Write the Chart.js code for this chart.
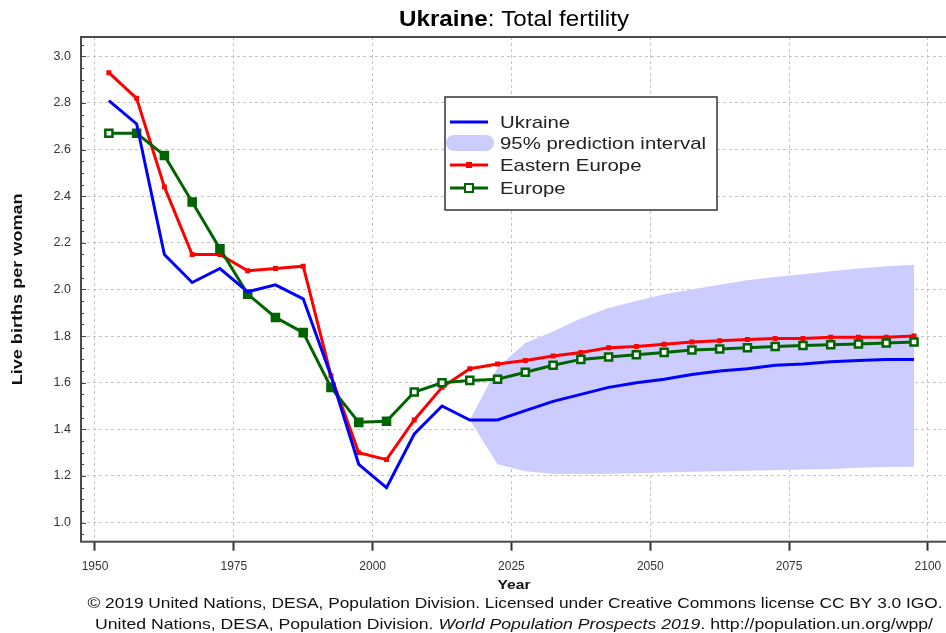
<!DOCTYPE html>
<html>
<head>
<meta charset="utf-8">
<title>Ukraine: Total fertility</title>
<script src="https://cdn.jsdelivr.net/npm/chart.js@4/dist/chart.umd.min.js"></script>
<style>
  html, body { margin: 0; padding: 0; background: #fff; overflow: hidden; }
  #wrap { width: 960px; height: 633px; }
</style>
</head>
<body>
<div id="wrap"><canvas id="fertChart" width="960" height="633"></canvas></div>
<script>
// Total fertility, live births per woman (mid points of the 5-year periods)
const years = [1952.5, 1957.5, 1962.5, 1967.5, 1972.5, 1977.5, 1982.5, 1987.5, 1992.5, 1997.5,
  2002.5, 2007.5, 2012.5, 2017.5, 2022.5, 2027.5, 2032.5, 2037.5, 2042.5, 2047.5,
  2052.5, 2057.5, 2062.5, 2067.5, 2072.5, 2077.5, 2082.5, 2087.5, 2092.5, 2097.5];

const ukraine = [2.81, 2.71, 2.15, 2.03, 2.09, 1.99, 2.02, 1.96, 1.63, 1.25,
  1.15, 1.38, 1.50, 1.44, 1.44, 1.48, 1.52, 1.55, 1.58, 1.60,
  1.615, 1.635, 1.65, 1.66, 1.675, 1.68, 1.69, 1.695, 1.70, 1.70];

const easternEurope = [2.93, 2.82, 2.44, 2.15, 2.15, 2.08, 2.09, 2.10, 1.63, 1.30,
  1.27, 1.44, 1.58, 1.66, 1.68, 1.695, 1.715, 1.73, 1.75, 1.755,
  1.765, 1.775, 1.78, 1.785, 1.79, 1.79, 1.795, 1.795, 1.795, 1.80];

const europe = [2.67, 2.67, 2.575, 2.375, 2.175, 1.98, 1.88, 1.815, 1.58, 1.43,
  1.435, 1.56, 1.60, 1.61, 1.615, 1.645, 1.675, 1.70, 1.71, 1.72,
  1.73, 1.74, 1.745, 1.75, 1.755, 1.76, 1.763, 1.766, 1.77, 1.775];

// 95% prediction interval for Ukraine
const piYears = [2017.5, 2022.5, 2027.5, 2032.5, 2037.5, 2042.5, 2047.5, 2052.5, 2057.5,
  2062.5, 2067.5, 2072.5, 2077.5, 2082.5, 2087.5, 2092.5, 2097.5];
const piLower = [1.44, 1.25, 1.22, 1.21, 1.21, 1.21, 1.212, 1.215, 1.218,
  1.22, 1.222, 1.225, 1.228, 1.23, 1.235, 1.238, 1.24];
const piUpper = [1.44, 1.665, 1.77, 1.82, 1.875, 1.92, 1.95, 1.98, 2.00,
  2.02, 2.04, 2.053, 2.065, 2.078, 2.09, 2.10, 2.106];

const xTicks = [1950, 1975, 2000, 2025, 2050, 2075, 2100];
const yTicks = [1.0, 1.2, 1.4, 1.6, 1.8, 2.0, 2.2, 2.4, 2.6, 2.8, 3.0];

const legendItems = ['Ukraine', '95% prediction interval', 'Eastern Europe', 'Europe'];

const BLUE = '#0000ff';
const RED = '#ff0000';
const GREEN = '#006400';
const SHADE = '#ccccff';
const FONT = '"Liberation Sans", Arial, sans-serif';

function pts(xs, ys) {
  return xs.map((x, i) => ({ x: x, y: ys[i] }));
}

// draws a run of [text, font] pieces squeezed/stretched to a given width
function fitRun(ctx, parts, cx, y, width) {
  let total = 0;
  parts.forEach(p => { ctx.font = p[1]; total += ctx.measureText(p[0]).width; });
  const k = width / total;
  ctx.save();
  ctx.translate(cx - width / 2, y);
  ctx.scale(k, 1);
  ctx.textAlign = 'left';
  let x = 0;
  parts.forEach(p => {
    ctx.font = p[1];
    ctx.fillText(p[0], x, 0);
    x += ctx.measureText(p[0]).width;
  });
  ctx.restore();
}

// titles, frame, inner ticks, legend and footer
const decor = {
  id: 'decor',
  afterDraw(chart) {
    const ctx = chart.ctx;
    const a = chart.chartArea;
    const yScale = chart.scales.y;
    const cx = 514;
    ctx.save();

    // small ticks on the inside of the left border
    ctx.strokeStyle = '#444';
    ctx.lineWidth = 1;
    for (let k = 19; k <= 61; k++) {
      const py = Math.round(yScale.getPixelForValue(k * 0.05)) + 0.5;
      if (py < a.top || py > a.bottom) continue;
      const len = (k % 4 === 0) ? 5 : 3;
      ctx.beginPath();
      ctx.moveTo(a.left, py);
      ctx.lineTo(a.left + len, py);
      ctx.stroke();
    }

    // plot frame
    ctx.strokeStyle = '#4a4a4a';
    ctx.lineWidth = 2;
    ctx.strokeRect(a.left, a.top, a.width, a.height);

    // title
    ctx.fillStyle = '#000';
    ctx.textBaseline = 'middle';
    fitRun(ctx, [['Ukraine', 'bold 22px ' + FONT], [': Total fertility', '22px ' + FONT]], cx, 20, 230);

    // axis titles
    ctx.fillStyle = '#111';
    fitRun(ctx, [['Year', 'bold 13px ' + FONT]], cx, 585, 33);
    ctx.save();
    ctx.translate(18, (a.top + a.bottom) / 2);
    ctx.rotate(-Math.PI / 2);
    fitRun(ctx, [['Live births per woman', 'bold 15px ' + FONT]], 0, 0, 192);
    ctx.restore();

    // footer
    ctx.fillStyle = '#111';
    fitRun(ctx, [['\u00a9 2019 United Nations, DESA, Population Division. Licensed under Creative Commons license CC BY 3.0 IGO.', '14.5px ' + FONT]], cx + 1, 604, 855);
    fitRun(ctx, [
      ['United Nations, DESA, Population Division. ', '14.5px ' + FONT],
      ['World Population Prospects 2019', 'italic 14.5px ' + FONT],
      ['. http://population.un.org/wpp/', '14.5px ' + FONT]
    ], cx, 625, 838);

    // legend box
    const lx = 445, ly = 97, lw = 272, lh = 113;
    ctx.fillStyle = '#fff';
    ctx.fillRect(lx, ly, lw, lh);
    ctx.strokeStyle = '#333';
    ctx.lineWidth = 1.5;
    ctx.strokeRect(lx, ly, lw, lh);
    const rowY = [122, 143, 165, 188];
    ctx.lineWidth = 3;
    // Ukraine
    ctx.strokeStyle = BLUE;
    ctx.beginPath(); ctx.moveTo(450, rowY[0]); ctx.lineTo(488, rowY[0]); ctx.stroke();
    // interval blob
    ctx.fillStyle = SHADE;
    ctx.beginPath();
    ctx.roundRect(446, rowY[1] - 8, 48, 16, 8);
    ctx.fill();
    // Eastern Europe
    ctx.strokeStyle = RED;
    ctx.beginPath(); ctx.moveTo(450, rowY[2]); ctx.lineTo(488, rowY[2]); ctx.stroke();
    ctx.fillStyle = RED;
    ctx.fillRect(466, rowY[2] - 3, 6, 6);
    // Europe
    ctx.strokeStyle = GREEN;
    ctx.beginPath(); ctx.moveTo(450, rowY[3]); ctx.lineTo(488, rowY[3]); ctx.stroke();
    ctx.fillStyle = '#fff';
    ctx.lineWidth = 2;
    ctx.fillRect(465, rowY[3] - 4, 8, 8);
    ctx.strokeRect(465, rowY[3] - 4, 8, 8);

    // legend labels, all stretched like the widest one
    ctx.fillStyle = '#222';
    ctx.font = '17px ' + FONT;
    const kLeg = 206 / ctx.measureText(legendItems[1]).width;
    legendItems.forEach((txt, i) => {
      ctx.save();
      ctx.translate(500, rowY[i] + 1);
      ctx.scale(kLeg, 1);
      ctx.textAlign = 'left';
      ctx.fillText(txt, 0, 0);
      ctx.restore();
    });

    ctx.restore();
  }
};

new Chart(document.getElementById('fertChart').getContext('2d'), {
  type: 'line',
  data: {
    datasets: [
      {
        label: 'Ukraine',
        data: pts(years, ukraine),
        borderColor: BLUE,
        borderWidth: 3,
        pointRadius: 0,
        fill: false,
        order: 1
      },
      {
        label: 'Eastern Europe',
        data: pts(years, easternEurope),
        borderColor: RED,
        backgroundColor: RED,
        borderWidth: 3,
        pointStyle: 'rect',
        pointRadius: 3.5,
        pointBorderWidth: 0,
        fill: false,
        order: 3
      },
      {
        label: 'Europe',
        data: pts(years, europe),
        borderColor: GREEN,
        borderWidth: 3,
        pointStyle: 'rect',
        pointRadius: 5,
        pointBorderWidth: 2.5,
        pointBorderColor: GREEN,
        pointBackgroundColor: ctx => (ctx.dataIndex === 0 || ctx.dataIndex >= 11) ? '#ffffff' : GREEN,
        fill: false,
        order: 2
      },
      {
        label: 'lower',
        data: pts(piYears, piLower),
        borderWidth: 0,
        borderColor: 'rgba(0,0,0,0)',
        pointRadius: 0,
        fill: false,
        order: 10
      },
      {
        label: '95% prediction interval',
        data: pts(piYears, piUpper),
        borderWidth: 0,
        borderColor: 'rgba(0,0,0,0)',
        backgroundColor: SHADE,
        pointRadius: 0,
        fill: '-1',
        order: 9
      }
    ]
  },
  options: {
    responsive: false,
    animation: false,
    events: [],
    layout: { padding: { top: 37, right: 10, bottom: 0, left: 0 } },
    elements: { line: { tension: 0 } },
    plugins: {
      legend: { display: false },
      tooltip: { enabled: false },
      title: { display: false }
    },
    scales: {
      x: {
        type: 'linear',
        min: 1947.48,
        max: 2103.98,
        afterBuildTicks: s => { s.ticks = xTicks.map(v => ({ value: v })); },
        afterFit: s => { s.height = 91.3; },
        ticks: {
          autoSkip: false,
          maxRotation: 0,
          padding: 9,
          color: '#333',
          font: { family: FONT, size: 12 },
          callback: v => String(v)
        },
        grid: {
          color: '#c4c4c4',
          lineWidth: 1,
          tickLength: 9,
          tickColor: '#333',
          tickWidth: 2
        },
        border: { display: false, dash: [3, 3] }
      },
      y: {
        type: 'linear',
        min: 0.918,
        max: 3.083,
        afterBuildTicks: s => { s.ticks = yTicks.map(v => ({ value: v })); },
        afterFit: s => { s.width = 81; },
        ticks: {
          padding: 10,
          color: '#333',
          font: { family: FONT, size: 12.5 },
          callback: v => Number(v).toFixed(1)
        },
        grid: {
          color: '#c4c4c4',
          lineWidth: 1,
          drawTicks: false
        },
        border: { display: false, dash: [3, 3] }
      }
    }
  },
  plugins: [decor]
});
</script>
</body>
</html>
